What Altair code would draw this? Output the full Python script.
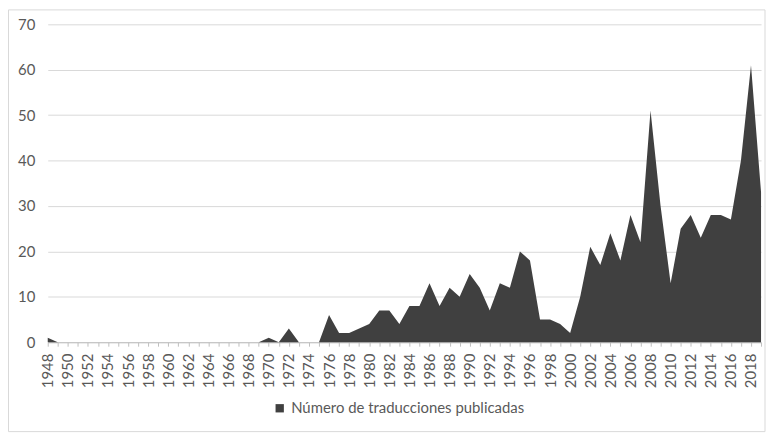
import altair as alt
import pandas as pd

years = list(range(1948, 2020))
counts = ([1] + [0] * 21 +
          [1, 0, 3, 0, 0, 0, 6, 2, 2, 3,
           4, 7, 7, 4, 8, 8, 13, 8, 12, 10,
           15, 12, 7, 13, 12, 20, 18, 5, 5, 4,
           2, 10, 21, 17, 24, 18, 28, 22, 51, 30,
           13, 25, 28, 23, 28, 28, 27, 40, 61, 33])
series_name = "Número de traducciones publicadas"
y_ticks = [0, 10, 20, 30, 40, 50, 60, 70]

df = pd.DataFrame({"year": years, "count": counts, "serie": series_name})

FONT = "Lato"
W, H = 718, 320

area = alt.Chart(df).mark_area(interpolate="linear").encode(
    x=alt.X("year:Q",
            scale=alt.Scale(domain=[1948, 2019], nice=False, zero=False),
            axis=alt.Axis(values=years, title=None, grid=False,
                          labelExpr="datum.value % 2 == 0 ? datum.label : ''",
                          format="d", labelAngle=-90, labelAlign="right",
                          labelBaseline="middle", labelPadding=7,
                          labelFontSize=15, labelColor="#595959", labelFont=FONT,
                          tickColor="#bfbfbf", tickSize=4,
                          domainColor="#bfbfbf", labelOverlap=False)),
    y=alt.Y("count:Q",
            scale=alt.Scale(domain=[0, 70], nice=False),
            axis=alt.Axis(values=y_ticks, title=None, grid=True,
                          gridColor="#d9d9d9", domain=False, ticks=False,
                          labelPadding=13, labelFontSize=15,
                          labelColor="#595959", labelFont=FONT)),
    color=alt.Color("serie:N",
                    scale=alt.Scale(range=["#404040"]),
                    legend=alt.Legend(orient="none", legendX=226, legendY=379,
                                      title=None, symbolType="square",
                                      symbolSize=70, labelFontSize=15,
                                      labelLimit=0,
                                      labelColor="#595959", labelFont=FONT,
                                      direction="horizontal")),
)

frame = alt.Chart(pd.DataFrame({"a": [0]})).mark_rect(
    fill=None, stroke="#d9d9d9", strokeWidth=1
).encode(
    x=alt.value(-39.5), x2=alt.value(722),
    y=alt.value(-14.5), y2=alt.value(410),
)

chart = alt.layer(frame, area).properties(
    width=W, height=H,
    autosize=alt.AutoSizeParams(type="none"),
    padding={"left": 40, "top": 15, "right": 6, "bottom": 93},
).configure_view(stroke=None)

chart.save("out.html", embed_options={"renderer": "svg", "actions": False})
